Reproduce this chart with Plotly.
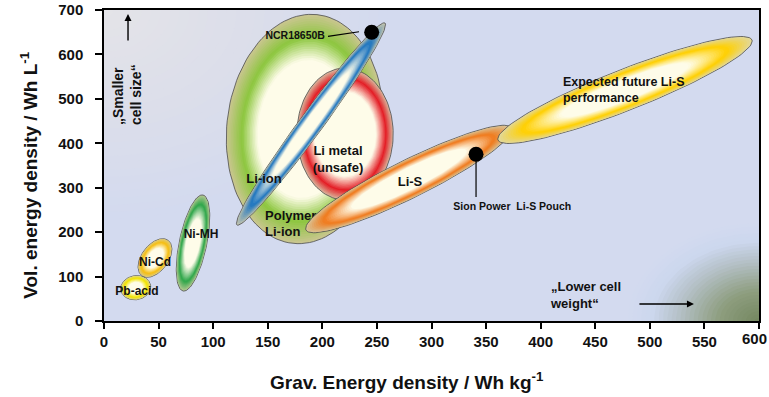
import numpy as np
import plotly.graph_objects as go

# ---------------- data ----------------
tech = ["Pb-acid", "Ni-Cd", "Ni-MH", "Polymer Li-ion", "Li metal",
        "Li-ion", "Li-S", "Expected future Li-S"]
# end points of the main axis of each technology's region (Wh/kg, Wh/L)
grav_a = [15.5, 34.6, 72.4, 173.1, 220.8, 121.8, 185.0, 360.9]
vol_a = [69.1, 102.2, 67.5, 174.7, 272.4, 216.1, 204.8, 407.4]
grav_b = [42.6, 58.8, 90.7, 195.1, 220.8, 257.4, 373.7, 593.6]
vol_b = [80.8, 181.4, 283.6, 689.6, 569.4, 670.7, 434.4, 632.5]
spread = [0.80, 0.60, 0.28, 0.68, 0.73, 0.092, 0.165, 0.15]  # minor/major ratio

cells = ["NCR18650B", "Sion Power  Li-S Pouch"]
cell_grav = [245.2, 340.8]
cell_vol = [649.8, 375.2]

x_ticks = [0, 50, 100, 150, 200, 250, 300, 350, 400, 450, 500, 550, 600]
y_ticks = [0, 100, 200, 300, 400, 500, 600, 700]

# ---------------- styles ----------------
CREAM = "#fefce9"
ring_color = ["#f2e400", "#f6be12", "#2ea64a", "#8cc63e", "#e41e26",
              "#1f76c0", "#f07a1c", "#ffd000"]
edge_color = ["#ddd58e", "#dccd88", "#b9c994", "#cbc692", "#d9b89e",
              "#c3c4ae", "#d9c69a", "#e2d89e"]
inner_r = [0.45, 0.5, 0.5, 0.6, 0.64, 0.5, 0.55, 0.5]
peak_r = [0.78, 0.8, 0.8, 0.8, 0.85, 0.8, 0.82, 0.8]

FONT = "Arial, Liberation Sans, Helvetica, sans-serif"
W, H = 769, 397
ML, MR, MT, MB = 104, 10, 10, 76
PW, PH = W - ML - MR, H - MT - MB
XR, YR = (0, 600), (0, 700)
kx = PW / (XR[1] - XR[0])
ky = PH / (YR[1] - YR[0])
tt = np.linspace(0, 2 * np.pi, 121)


def hex2rgb(h):
    return tuple(int(h[i:i + 2], 16) for i in (1, 3, 5))


def interp(stops, r):
    for (p0, c0), (p1, c1) in zip(stops[:-1], stops[1:]):
        if r <= p1:
            f = 0 if p1 == p0 else (r - p0) / (p1 - p0)
            a, b = hex2rgb(c0), hex2rgb(c1)
            return "rgb(%d,%d,%d)" % tuple(round(a[i] + (b[i] - a[i]) * f) for i in range(3))
    return stops[-1][1]


def ellipse(x1, y1, x2, y2, ratio, s):
    p1 = np.array([x1 * kx, y1 * ky])
    p2 = np.array([x2 * kx, y2 * ky])
    c = (p1 + p2) / 2
    u = (p2 - p1) / 2
    v = np.array([-u[1], u[0]]) * ratio
    pts = c[:, None] + s * (np.outer(u, np.cos(tt)) + np.outer(v, np.sin(tt)))
    return pts[0] / kx, pts[1] / ky


def radial_blob(fig, cx, cy, rx, ry, stops, n=30):
    for k in range(n):
        s = 1 - k / n
        xs = cx + s * rx * np.cos(tt)
        ys = cy + s * ry * np.sin(tt)
        fig.add_trace(go.Scatter(x=xs, y=ys, mode="lines", fill="toself",
                                 fillcolor=interp(stops, s - 0.5 / n),
                                 line=dict(width=0), hoverinfo="skip",
                                 showlegend=False))


def region(fig, i):
    stops = [(0, CREAM), (inner_r[i], CREAM), (peak_r[i], ring_color[i]),
             (1.0, edge_color[i])]
    step = 0.02
    s = 1.0
    first = True
    while s > inner_r[i] + 1e-9:
        xs, ys = ellipse(grav_a[i], vol_a[i], grav_b[i], vol_b[i], spread[i], s)
        fig.add_trace(go.Scatter(
            x=xs, y=ys, mode="lines", fill="toself",
            fillcolor=interp(stops, s - step / 2),
            line=dict(width=0.8 if first else 0, color="#4d4d4d"),
            hoverinfo="skip", showlegend=False))
        first = False
        s -= step
    xs, ys = ellipse(grav_a[i], vol_a[i], grav_b[i], vol_b[i], spread[i], inner_r[i])
    fig.add_trace(go.Scatter(x=xs, y=ys, mode="lines", fill="toself",
                             fillcolor=CREAM, line=dict(width=0),
                             hoverinfo="skip", showlegend=False))


def label(fig, text, x, y, size=13, pos="middle center"):
    fig.add_trace(go.Scatter(x=[x], y=[y], mode="text", text=[text],
                             textposition=pos,
                             textfont=dict(family=FONT, size=size, color="#111111",
                                           weight="bold"),
                             hoverinfo="skip", showlegend=False))


fig = go.Figure()

# background shading
radial_blob(fig, 0, 700, 260, 470,
            [(0, "#e4e4e8"), (0.5, "#dcdeea"), (1.0, "#d3daef")])
radial_blob(fig, 600, 0, 120, 220,
            [(0, "#748760"), (0.3, "#8d9d7e"), (0.6, "#b3bfc4"),
             (0.82, "#ccd7ee"), (1.0, "#d3daef")])

# technology regions (back to front)
for i in range(5):
    region(fig, i)
region(fig, 5)
label(fig, "Polymer<br>Li-ion", 147.5, 216.7, 13, "middle right")
region(fig, 6)
region(fig, 7)

# region labels
label(fig, "Pb-acid", 30.2, 65.9, 12)
label(fig, "Ni-Cd", 46.7, 131.2, 12)
label(fig, "Ni-MH", 88.9, 193.6, 12)
label(fig, "Li-ion", 146.6, 317.4, 13)
label(fig, "Li metal<br>(unsafe)", 214.3, 362.4, 13)
label(fig, "Li-S", 280.3, 310.6, 13)
label(fig, "Expected future Li-S<br>performance", 420.4, 517.7, 12.5, "middle right")

# leader lines and cells
fig.add_trace(go.Scatter(x=[205.2, 233.6], y=[640.5, 651.1], mode="lines",
                         line=dict(color="black", width=1.2), hoverinfo="skip",
                         showlegend=False))
fig.add_trace(go.Scatter(x=[cell_grav[1], cell_grav[1]], y=[cell_vol[1], 279.1],
                         mode="lines", line=dict(color="black", width=1.2),
                         hoverinfo="skip", showlegend=False))
fig.add_trace(go.Scatter(x=cell_grav, y=cell_vol, mode="markers",
                         marker=dict(size=15, color="black"),
                         hoverinfo="skip", showlegend=False))
label(fig, cells[0], 202.4, 641.5, 10.5, "middle left")
label(fig, cells[1], 374.0, 256.6, 10.5)

tick_font = dict(family=FONT, size=15, color="#111111", weight="bold")
x_ticktext = [str(v) for v in x_ticks[:-1]] + [""]

annotations = [
    dict(x=22, y=691, ax=22, ay=628, xref="x", yref="y", axref="x", ayref="y",
         text="", showarrow=True, arrowhead=2, arrowsize=1, arrowwidth=1.4,
         arrowcolor="black", standoff=0, startstandoff=0),
    dict(x=540.4, y=38.3, ax=489.1, ay=38.3, xref="x", yref="y", axref="x",
         ayref="y", text="", showarrow=True, arrowhead=2, arrowsize=1,
         arrowwidth=1.4, arrowcolor="black", standoff=0, startstandoff=0),
    dict(x=21.1, y=508.6, xref="x", yref="y", text="„Smaller<br>cell size“",
         textangle=-90, showarrow=False, align="left",
         font=dict(family=FONT, size=14, color="#111111", weight="bold")),
    dict(x=407.0, y=58.5, xref="x", yref="y", text="„Lower cell<br>weight“",
         xanchor="left", showarrow=False, align="left",
         font=dict(family=FONT, size=13, color="#111111", weight="bold")),
    # last x tick label, nudged inside the page like in the reference
    dict(x=x_ticks[-1], y=0, xref="x", yref="paper", text=str(x_ticks[-1]),
         xanchor="center", yanchor="top", xshift=-5, yshift=-7,
         showarrow=False, font=tick_font),
    dict(x=-0.136, y=0.47, xref="paper", yref="paper",
         text="Vol. energy density / Wh L<sup>-1</sup>", textangle=-90,
         showarrow=False, font=dict(family=FONT, size=19, color="#111111", weight="bold")),
    dict(x=0.4626, y=-0.237, xref="paper", yref="paper",
         text="Grav. Energy density / Wh kg<sup>-1</sup>",
         showarrow=False, font=dict(family=FONT, size=19, color="#111111", weight="bold")),
]

axis_common = dict(showline=True, linecolor="black", linewidth=1.5, mirror=True,
                   ticks="outside", tickwidth=1.5, tickcolor="black",
                   showgrid=False, zeroline=False, automargin=False,
                   tickfont=tick_font)

fig.update_layout(
    width=W, height=H,
    margin=dict(l=ML, r=MR, t=MT, b=MB, autoexpand=False),
    paper_bgcolor="white", plot_bgcolor="#d3daef",
    showlegend=False,
    xaxis=dict(range=list(XR), tickvals=x_ticks, ticktext=x_ticktext, ticklen=6,
               ticklabelstandoff=0, **axis_common),
    yaxis=dict(range=list(YR), tickvals=y_ticks, ticklen=7,
               ticklabelstandoff=9, **axis_common),
    annotations=annotations,
)

fig.write_html("out.html")
